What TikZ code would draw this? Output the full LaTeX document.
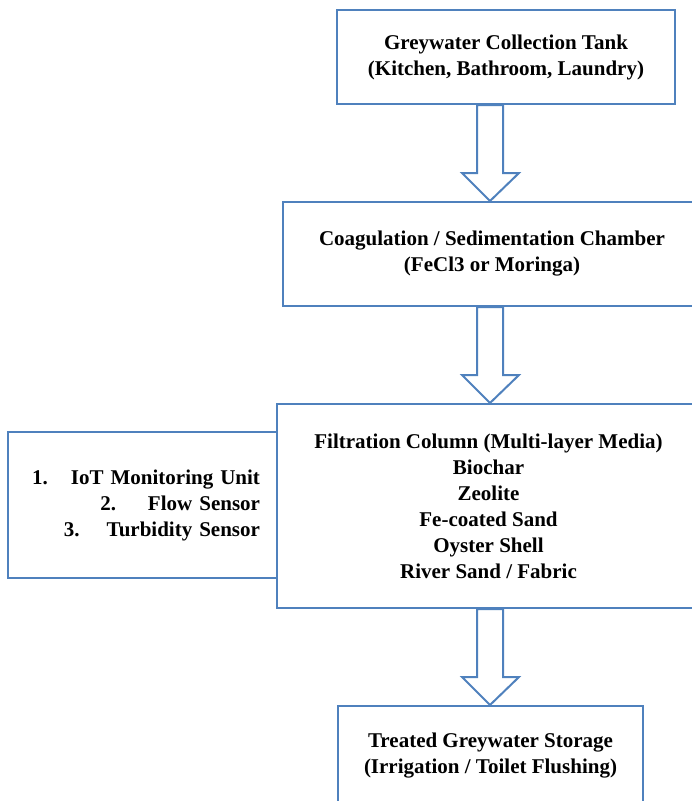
\documentclass[tikz,border=0pt]{standalone}
\usepackage{fontspec}
\setmainfont{Liberation Serif}
\usetikzlibrary{calc}
\definecolor{boxblue}{RGB}{79,129,189}
\newcommand\flowarrow[2]{%
  \draw[barr] let \p1=(#1.south), \p2=(#2.north) in
    (477pt,\y1) -- (503pt,\y1) -- (503pt,\y2+28pt) -- (519pt,\y2+28pt) --
    (490pt,\y2) -- (462pt,\y2+28pt) -- (477pt,\y2+28pt) -- cycle;}
\begin{document}
\begin{tikzpicture}[x=1pt,y=-1pt,
  box/.style={draw=boxblue, line width=2pt, fill=white, rectangle, align=center,
    inner sep=0pt, font=\fontsize{21}{26}\selectfont\bfseries},
  barr/.style={draw=boxblue, line width=2pt, fill=white, line join=miter}]
\useasboundingbox (0,0) rectangle (692,801);
\clip (0,0) rectangle (692,801);
\node[box, minimum width=338pt, minimum height=94pt] (tank) at (506,57)
  {Greywater Collection Tank\\(Kitchen, Bathroom, Laundry)};
\node[box, minimum width=418pt, minimum height=104pt] (coag) at (492,254)
  {Coagulation / Sedimentation Chamber\\(FeCl3 or Moringa)};
\node[box, minimum width=269pt, minimum height=146pt, text width=235pt, align=right] (mon) at (142.5,505)
  {1.\hspace{23pt}IoT Monitoring Unit\\2.\hspace{32pt}Flow Sensor\\3.\hspace{27pt}Turbidity Sensor};
\node[box, minimum width=423pt, minimum height=204pt] (filt) at (488.5,506)
  {Filtration Column (Multi-layer Media)\\Biochar\\Zeolite\\Fe-coated Sand\\Oyster Shell\\River Sand / Fabric};
\node[box, minimum width=305pt, minimum height=100pt] (store) at (490.5,756)
  {Treated Greywater Storage\\(Irrigation / Toilet Flushing)};
\flowarrow{tank}{coag}
\flowarrow{coag}{filt}
\flowarrow{filt}{store}
\end{tikzpicture}
\end{document}
